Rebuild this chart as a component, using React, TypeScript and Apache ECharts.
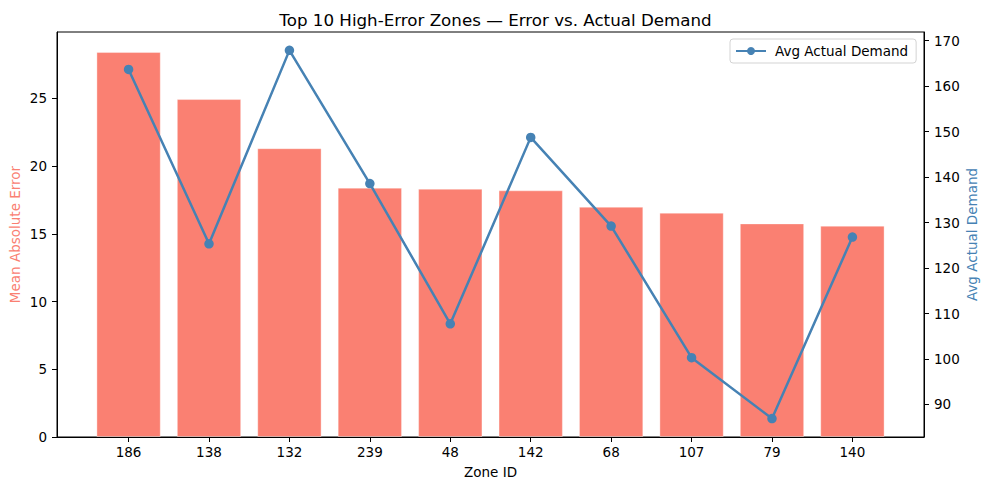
import React, { useEffect, useRef } from "react";
import * as echarts from "echarts";

const zones = ["186", "138", "132", "239", "48", "142", "68", "107", "79", "140"];
const meanAbsError = [28.42, 24.95, 21.32, 18.41, 18.33, 18.21, 17.0, 16.56, 15.77, 15.6];
const avgDemand = [163.66, 125.33, 167.86, 138.57, 107.73, 148.73, 129.23, 100.3, 86.9, 126.8];
const maeTicks = [0, 5, 10, 15, 20, 25];
const demandTicks = [90, 100, 110, 120, 130, 140, 150, 160, 170];
const xTicks = [0, 1, 2, 3, 4, 5, 6, 7, 8, 9];

const FONT = "DejaVu Sans";

export default function App() {
  const ref = useRef<HTMLDivElement>(null);
  useEffect(() => {
    document.body.style.margin = "0";
    const chart = echarts.init(ref.current!, null, { renderer: "svg" });
    const W = 989;
    const gridLeft = 57;
    const gridRight = 65;
    const plotW = W - gridLeft - gridRight;
    const xMin = -0.89;
    const xMax = 9.89;
    const barW = (plotW * 0.8) / (xMax - xMin);

    const tickStyle = { show: true, inside: false, length: 5, lineStyle: { color: "#000", width: 1 } };
    const labelStyle = { color: "#000", fontFamily: FONT, fontSize: 13.5 };
    const axisLine = { show: true, onZero: false, lineStyle: { color: "#000", width: 1 } };

    chart.setOption({
      animation: false,
      backgroundColor: "#fff",
      title: {
        text: "Top 10 High-Error Zones — Error vs. Actual Demand",
        left: 490.5,
        textAlign: "center",
        top: 6,
        textStyle: { fontFamily: FONT, fontSize: 16.7, fontWeight: "normal", color: "#000" },
      },
      grid: {
        left: gridLeft,
        right: gridRight,
        top: 32,
        bottom: 53,
        containLabel: false,
        outerBoundsMode: "none",
        show: true,
        borderColor: "#000",
        borderWidth: 1,
        backgroundColor: "transparent",
      },
      legend: {
        data: ["Avg Actual Demand"],
        left: 730,
        top: 39,
        orient: "vertical",
        padding: [5, 8, 5, 5],
        itemWidth: 30,
        itemHeight: 10,
        borderColor: "#d3d3d3",
        borderWidth: 1,
        borderRadius: 3,
        backgroundColor: "rgba(255,255,255,0.8)",
        textStyle: { fontFamily: FONT, fontSize: 13.5, color: "#000", padding: [0, 0, 0, 4] },
      },
      xAxis: {
        type: "value",
        min: xMin,
        max: xMax,
        name: "Zone ID",
        nameLocation: "middle",
        nameGap: 28,
        nameMoveOverlap: false,
        nameTextStyle: { fontFamily: FONT, fontSize: 13.5, color: "#000" },
        axisLine,
        axisTick: { ...tickStyle, customValues: xTicks },
        axisLabel: {
          ...labelStyle,
          margin: 8,
          customValues: xTicks,
          formatter: (v: number) => zones[Math.round(v)] ?? "",
        },
        splitLine: { show: false },
      },
      yAxis: [
        {
          type: "value",
          min: 0,
          max: 29.9,
          position: "left",
          name: "Mean Absolute Error",
          nameLocation: "middle",
          nameGap: 35,
          nameMoveOverlap: false,
          nameTextStyle: { fontFamily: FONT, fontSize: 13.5, color: "#FA8072" },
          axisLine,
          axisTick: { ...tickStyle, customValues: maeTicks },
          axisLabel: { ...labelStyle, margin: 10, customValues: maeTicks },
          splitLine: { show: false },
        },
        {
          type: "value",
          min: 82.85,
          max: 171.9,
          position: "right",
          name: "Avg Actual Demand",
          nameLocation: "middle",
          nameGap: 41,
          nameMoveOverlap: false,
          nameTextStyle: { fontFamily: FONT, fontSize: 13.5, color: "#4682B4" },
          axisLine,
          axisTick: { ...tickStyle, customValues: demandTicks },
          axisLabel: { ...labelStyle, margin: 10, customValues: demandTicks },
          splitLine: { show: false },
        },
      ],
      series: [
        {
          name: "Mean Absolute Error",
          type: "bar",
          yAxisIndex: 0,
          barWidth: barW,
          data: meanAbsError.map((v, i) => [i, v]),
          itemStyle: { color: "#FA8072", borderColor: "rgba(255,255,255,0.35)", borderWidth: 1 },
          z: 2,
        },
        {
          name: "Avg Actual Demand",
          type: "line",
          yAxisIndex: 1,
          data: avgDemand.map((v, i) => [i, v]),
          symbol: "circle",
          symbolSize: 9.5,
          lineStyle: { color: "#4682B4", width: 2.5 },
          itemStyle: { color: "#4682B4" },
          z: 3,
        },
      ],
    });
    return () => chart.dispose();
  }, []);
  return <div ref={ref} style={{ width: 989, height: 490 }} />;
}
